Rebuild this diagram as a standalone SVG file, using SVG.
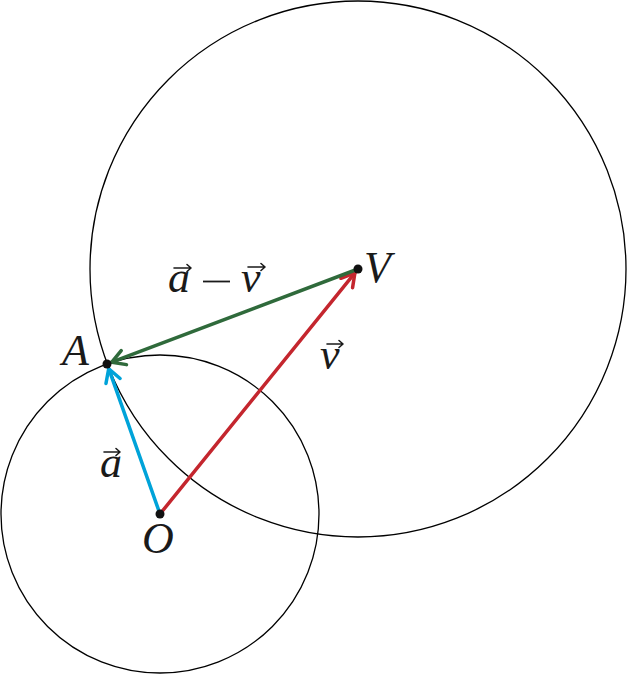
<svg xmlns="http://www.w3.org/2000/svg" width="627" height="675" viewBox="0 0 627 675">
<style>
.circ{fill:none;stroke:#000;stroke-width:1.3}
.vec{fill:none;stroke-width:3.5;stroke-linecap:round}
.lbl{font-family:"Liberation Serif","DejaVu Serif",serif;font-style:italic;font-size:44px;fill:#1a1a1a}
.acc{fill:none;stroke:#1a1a1a;stroke-width:1.6;stroke-linecap:round;stroke-linejoin:round}
.dot{fill:#111}
</style>
<defs>
<marker id="hb" markerUnits="userSpaceOnUse" viewBox="-16 -10 20 20" refX="0" refY="0" markerWidth="20" markerHeight="20" orient="auto"><path d="M-13,-7.5 L0,0 L-13,7.5" fill="none" stroke="#00a3d9" stroke-width="3.5" stroke-linecap="round"/></marker>
<marker id="hr" markerUnits="userSpaceOnUse" viewBox="-16 -10 20 20" refX="0" refY="0" markerWidth="20" markerHeight="20" orient="auto"><path d="M-13,-7.5 L0,0 L-13,7.5" fill="none" stroke="#c4262e" stroke-width="3.5" stroke-linecap="round"/></marker>
<marker id="hg" markerUnits="userSpaceOnUse" viewBox="-16 -10 20 20" refX="0" refY="0" markerWidth="20" markerHeight="20" orient="auto"><path d="M-13,-7.5 L0,0 L-13,7.5" fill="none" stroke="#2f6a3b" stroke-width="3.5" stroke-linecap="round"/></marker>
</defs>
<g id="circles">
<circle class="circ" cx="160" cy="514" r="159"/>
<circle class="circ" cx="358" cy="269" r="268"/>
</g>
<g id="connectors">
<line class="vec" stroke="#00a3d9" x1="160" y1="514" x2="108.7" y2="368.7" marker-end="url(#hb)"/>
<line class="vec" stroke="#c4262e" x1="160" y1="514" x2="354.9" y2="272.9" marker-end="url(#hr)"/>
<line class="vec" stroke="#2f6a3b" x1="358" y1="269" x2="111.7" y2="362.2" marker-end="url(#hg)"/>
</g>
<g id="node-O">
<circle class="dot" cx="160" cy="514" r="4.5"/>
<text class="lbl" x="142" y="553">O</text>
</g>
<g id="node-A">
<circle class="dot" cx="107" cy="364" r="4.5"/>
<text class="lbl" x="62" y="365">A</text>
</g>
<g id="node-V">
<circle class="dot" cx="358" cy="269" r="4.5"/>
<text class="lbl" x="364" y="282">V</text>
</g>
<g id="label-a">
<text class="lbl" x="100" y="477">a</text>
<path class="acc" d="M104,452 H120 M116,448.5 L120,452 L116,455.5"/>
</g>
<g id="label-v">
<text class="lbl" x="320" y="369">v</text>
<path class="acc" d="M327,344 H343 M339,340.5 L343,344 L339,347.5"/>
</g>
<g id="label-a-minus-v">
<text class="lbl" x="168" y="292">a</text>
<path class="acc" d="M174,268 H191 M187,264.5 L191,268 L187,271.5"/>
<line x1="203" y1="281.5" x2="230" y2="281.5" stroke="#1a1a1a" stroke-width="1.8"/>
<text class="lbl" x="241" y="292">v</text>
<path class="acc" d="M248,267 H265 M261,263.5 L265,267 L261,270.5"/>
</g>
</svg>
